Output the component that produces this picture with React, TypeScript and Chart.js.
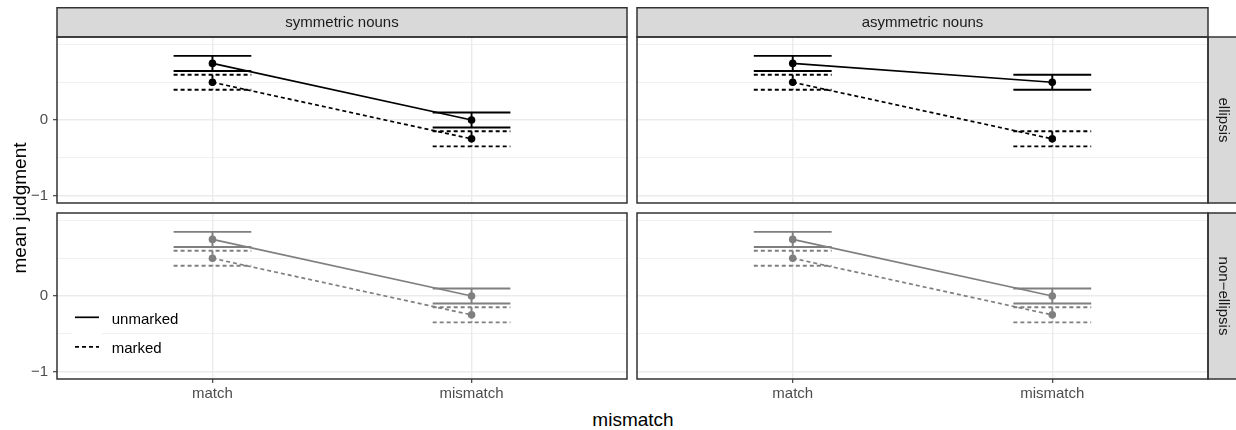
import React, { useEffect, useRef } from "react";
import { Chart, registerables } from "chart.js";

Chart.register(...registerables);

// ---- data -------------------------------------------------------------
const categories = ["match", "mismatch"];
const seriesNames = ["unmarked", "marked"];
const nounTypes = ["symmetric nouns", "asymmetric nouns"];
const ellipsisTypes = ["ellipsis", "non\u2212ellipsis"];

// mean judgment for (match, mismatch)
const ellipsisSymmetricUnmarked = [0.75, 0.0];
const ellipsisSymmetricMarked = [0.5, -0.25];
const ellipsisAsymmetricUnmarked = [0.75, 0.5];
const ellipsisAsymmetricMarked = [0.5, -0.25];
const nonEllipsisSymmetricUnmarked = [0.75, 0.0];
const nonEllipsisSymmetricMarked = [0.5, -0.25];
const nonEllipsisAsymmetricUnmarked = [0.75, 0.0];
const nonEllipsisAsymmetricMarked = [0.5, -0.25];

// standard error for (match, mismatch)
const unmarkedErrors = [0.1, 0.1];
const markedErrors = [0.1, 0.1];

const yTickValues = [-1, 0];
const yGridValues = [-1, -0.5, 0, 0.5, 1];
const yLimits = [-1.1, 1.1];
const xLimits = [0.4, 2.6];

// ---- styling / layout -------------------------------------------------
const FONT = '"Liberation Sans", Arial, Helvetica, sans-serif';
const rowColors = ["#000000", "#7f7f7f"];
const seriesDash: number[][] = [[], [4, 3]];
const COL_LEFT = [57, 637];
const PANEL_W = [570, 571];
const ROW_TOP = [37, 213];
const PANEL_H = 166;
const STRIP = 30;
const RIGHT_STRIP = 28;
const Y_AXIS_W = 49;
const X_AXIS_H = 30;
const EDGE = 1; // room so panel borders are not clipped at a canvas edge
const ERR_HALF = 0.15;

type PanelSpec = {
  row: number;
  col: number;
  unmarked: number[];
  marked: number[];
};

const panelSpecs: PanelSpec[] = [
  { row: 0, col: 0, unmarked: ellipsisSymmetricUnmarked, marked: ellipsisSymmetricMarked },
  { row: 0, col: 1, unmarked: ellipsisAsymmetricUnmarked, marked: ellipsisAsymmetricMarked },
  { row: 1, col: 0, unmarked: nonEllipsisSymmetricUnmarked, marked: nonEllipsisSymmetricMarked },
  { row: 1, col: 1, unmarked: nonEllipsisAsymmetricUnmarked, marked: nonEllipsisAsymmetricMarked },
];

function formatTick(v: number): string {
  return v < 0 ? "\u2212" + Math.abs(v) : String(v);
}

// caps + stem for each error bar, gaps separate the pieces
function errorBarPoints(means: number[], errs: number[]) {
  const pts: { x: number; y: number | null }[] = [];
  means.forEach((m, i) => {
    const x = i + 1;
    const hi = m + errs[i];
    const lo = m - errs[i];
    pts.push(
      { x: x - ERR_HALF, y: hi },
      { x: x + ERR_HALF, y: hi },
      { x, y: null },
      { x, y: hi },
      { x, y: lo },
      { x, y: null },
      { x: x - ERR_HALF, y: lo },
      { x: x + ERR_HALF, y: lo },
      { x, y: null }
    );
  });
  return pts;
}

function Panel({ spec }: { spec: PanelSpec }) {
  const ref = useRef<HTMLCanvasElement | null>(null);
  const { row, col } = spec;
  const yW = col === 0 ? Y_AXIS_W : EDGE;
  const padTop = row === 0 ? STRIP : EDGE;
  const padRight = col === 1 ? RIGHT_STRIP : EDGE;
  const xH = row === 1 ? X_AXIS_H : EDGE;
  const left = COL_LEFT[col] - yW;
  const top = ROW_TOP[row] - padTop;
  const width = yW + PANEL_W[col] + padRight;
  const height = padTop + PANEL_H + xH;

  useEffect(() => {
    if (!ref.current) return;
    const color = rowColors[row];
    const series = [spec.unmarked, spec.marked];
    const errs = [unmarkedErrors, markedErrors];

    const lineSets = series.map((vals, s) => ({
      label: seriesNames[s],
      data: vals.map((v, i) => ({ x: i + 1, y: v })),
      borderColor: color,
      backgroundColor: color,
      borderWidth: 1.7,
      borderDash: seriesDash[s],
      pointRadius: 3.8,
      pointHoverRadius: 3.8,
      pointBackgroundColor: color,
      pointBorderWidth: 0,
      tension: 0,
    }));
    const errSets = series.map((vals, s) => ({
      label: seriesNames[s] + " se",
      data: errorBarPoints(vals, errs[s]),
      borderColor: color,
      borderWidth: 1.9,
      borderDash: seriesDash[s],
      pointRadius: 0,
      pointHoverRadius: 0,
      spanGaps: false,
      tension: 0,
    }));

    const decor = {
      id: "panelDecor",
      afterDraw(chart: any) {
        const ctx = chart.ctx as CanvasRenderingContext2D;
        const ca = chart.chartArea;
        ctx.save();

        // legend (inside the lower-left panel)
        if (row === 1 && col === 0) {
          seriesNames.forEach((name, s) => {
            const ky = ca.top + 104.3 + s * 29.5;
            ctx.fillStyle = "#ffffff";
            ctx.fillRect(ca.left + 15, ky - 14.7, 30, 29.4);
            ctx.strokeStyle = "#000000";
            ctx.lineWidth = 1.7;
            ctx.setLineDash(seriesDash[s]);
            ctx.beginPath();
            ctx.moveTo(ca.left + 18, ky);
            ctx.lineTo(ca.left + 42, ky);
            ctx.stroke();
            ctx.setLineDash([]);
            ctx.fillStyle = "#000000";
            ctx.font = `15px ${FONT}`;
            ctx.textAlign = "left";
            ctx.textBaseline = "alphabetic";
            ctx.fillText(name, ca.left + 54.7, ky + 6.6);
          });
        }

        ctx.setLineDash([]);
        ctx.lineWidth = 1.5;
        ctx.strokeStyle = "#333333";

        // column strip
        if (row === 0) {
          ctx.fillStyle = "#d9d9d9";
          ctx.fillRect(ca.left, 0.75, ca.right - ca.left, ca.top - 0.75);
          ctx.strokeRect(ca.left, 0.75, ca.right - ca.left, ca.top - 0.75);
          ctx.fillStyle = "#1a1a1a";
          ctx.font = `15px ${FONT}`;
          ctx.textAlign = "center";
          ctx.textBaseline = "alphabetic";
          ctx.fillText(nounTypes[col], (ca.left + ca.right) / 2, ca.top - 9.6);
        }

        // row strip
        if (col === 1) {
          ctx.fillStyle = "#d9d9d9";
          ctx.fillRect(ca.right, ca.top, RIGHT_STRIP + 4, ca.bottom - ca.top);
          ctx.strokeRect(ca.right, ca.top, RIGHT_STRIP + 4, ca.bottom - ca.top);
          ctx.fillStyle = "#1a1a1a";
          ctx.font = `15px ${FONT}`;
          ctx.translate(ca.right + 10.5, (ca.top + ca.bottom) / 2);
          ctx.rotate(Math.PI / 2);
          ctx.textAlign = "center";
          ctx.textBaseline = "alphabetic";
          ctx.fillText(ellipsisTypes[row], 0, 0);
          ctx.setTransform(1, 0, 0, 1, 0, 0);
        }

        // panel border
        ctx.strokeStyle = "#333333";
        ctx.lineWidth = 1.5;
        ctx.strokeRect(ca.left, ca.top, ca.right - ca.left, ca.bottom - ca.top);
        ctx.restore();
      },
    };

    const chart = new Chart(ref.current, {
      type: "line",
      data: { datasets: [...lineSets, ...errSets] as any },
      options: {
        animation: false,
        responsive: false,
        maintainAspectRatio: false,
        events: [],
        layout: {
          autoPadding: false,
          padding: { top: padTop, right: padRight, left: 0, bottom: 0 },
        },
        plugins: { legend: { display: false }, tooltip: { enabled: false } },
        scales: {
          x: {
            type: "linear",
            min: xLimits[0],
            max: xLimits[1],
            bounds: "data",
            afterBuildTicks: (scale: any) => {
              scale.ticks = categories.map((_, i) => ({ value: i + 1 }));
            },
            afterFit: (scale: any) => {
              scale.height = xH;
              scale.paddingLeft = 0;
              scale.paddingRight = 0;
            },
            border: { display: false },
            grid: {
              color: "#ebebeb",
              lineWidth: 1.4,
              drawTicks: row === 1,
              tickLength: 4,
              tickColor: "#333333",
              tickWidth: 1.1,
            },
            ticks: {
              display: row === 1,
              autoSkip: false,
              maxRotation: 0,
              padding: 2,
              color: "#4d4d4d",
              font: { family: FONT, size: 15 },
              callback: (v: any) => categories[Math.round(Number(v)) - 1] ?? "",
            },
          },
          y: {
            type: "linear",
            min: yLimits[0],
            max: yLimits[1],
            bounds: "data",
            afterBuildTicks: (scale: any) => {
              scale.ticks = yGridValues.map((v) => ({ value: v }));
            },
            afterFit: (scale: any) => {
              scale.width = yW;
              scale.paddingTop = 0;
              scale.paddingBottom = 0;
            },
            border: { display: false },
            grid: {
              color: "#ebebeb",
              lineWidth: (c: any) => (yTickValues.includes(c.tick?.value) ? 1.4 : 0.7),
              drawTicks: col === 0,
              tickLength: 4,
              tickColor: (c: any) =>
                yTickValues.includes(c.tick?.value) ? "#333333" : "rgba(0,0,0,0)",
              tickWidth: 1.1,
            },
            ticks: {
              display: col === 0,
              autoSkip: false,
              padding: 5,
              color: "#4d4d4d",
              font: { family: FONT, size: 15 },
              callback: (v: any) => (yTickValues.includes(Number(v)) ? formatTick(Number(v)) : ""),
            },
          },
        },
      } as any,
      plugins: [decor],
    });

    return () => chart.destroy();
  }, [spec, row, col, yW, padTop, padRight, xH]);

  return (
    <canvas
      ref={ref}
      width={width}
      height={height}
      style={{ position: "absolute", left, top, width, height, display: "block" }}
    />
  );
}

export default function App() {
  return (
    <div
      style={{
        position: "fixed",
        left: 0,
        top: 0,
        width: 1236,
        height: 430,
        overflow: "hidden",
        background: "#ffffff",
        fontFamily: FONT,
      }}
    >
      {panelSpecs.map((p) => (
        <Panel key={`${p.row}-${p.col}`} spec={p} />
      ))}
      <div
        style={{
          position: "absolute",
          left: -80,
          top: 198,
          width: 200,
          height: 20,
          transformOrigin: "100px 10px",
          transform: "rotate(-90deg)",
          textAlign: "center",
          fontSize: 19,
          lineHeight: "20px",
          whiteSpace: "nowrap",
          color: "#000000",
        }}
      >
        mean judgment
      </div>
      <div
        style={{
          position: "absolute",
          left: 433,
          top: 410,
          width: 400,
          height: 20,
          textAlign: "center",
          fontSize: 19,
          lineHeight: "20px",
          whiteSpace: "nowrap",
          color: "#000000",
        }}
      >
        mismatch
      </div>
    </div>
  );
}
